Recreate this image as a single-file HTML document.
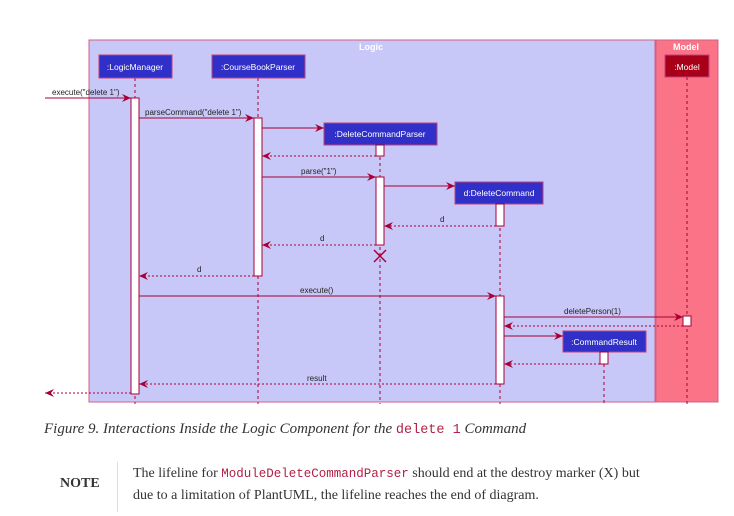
<!DOCTYPE html>
<html><head><meta charset="utf-8"><style>
body{margin:0;width:734px;height:516px;background:#fff;overflow:hidden;position:relative;font-family:"Liberation Serif",serif}
svg{position:absolute;left:0;top:0}
.cap{position:absolute;left:44px;top:421px;font-style:italic;font-size:15px;color:#333;white-space:nowrap}
.cap code{font-size:13.5px}
code{font-family:"Liberation Mono",monospace;color:#b12146;font-style:normal;font-size:12.5px}
.note{position:absolute;left:60px;top:476px;font-weight:bold;font-size:14px;color:#333}
.vl{position:absolute;left:117px;top:462px;width:1px;height:50px;background:#ddd}
.nt{position:absolute;left:133px;top:463px;font-size:14px;line-height:22px;color:#333;width:600px}
</style></head><body>
<svg width="734" height="516" font-family="Liberation Sans, sans-serif" font-size="8">
<defs>
<marker id="a" markerWidth="10" markerHeight="8" refX="9" refY="4" orient="auto" markerUnits="userSpaceOnUse"><path d="M0,0 L9,4 L0,8 L3,4 z" fill="#a80036"/></marker>
</defs>
<rect x="89" y="40" width="566" height="362" fill="#c8c8f8" stroke="#d0608a" stroke-width="1"/>
<rect x="656" y="40" width="62" height="362" fill="#fa7386" stroke="#d0608a" stroke-width="1"/>
<text x="371" y="50" fill="#fff" font-weight="bold" font-size="9" text-anchor="middle">Logic</text>
<text x="686" y="50" fill="#fff" font-weight="bold" font-size="9" text-anchor="middle">Model</text>
<g stroke="#a80036" stroke-dasharray="3,3" stroke-width="1">
<line x1="135" y1="78" x2="135" y2="404"/><line x1="258" y1="78" x2="258" y2="404"/>
<line x1="380" y1="145" x2="380" y2="404"/><line x1="500" y1="204" x2="500" y2="404"/>
<line x1="604" y1="352" x2="604" y2="404"/><line x1="687" y1="77" x2="687" y2="404"/>
</g>
<g fill="#3030c8" stroke="#c0407a" stroke-width="1">
<rect x="99" y="55" width="73" height="23"/><rect x="212" y="55" width="93" height="23"/>
<rect x="324" y="123" width="113" height="22"/><rect x="455" y="182" width="88" height="22"/>
<rect x="563" y="331" width="83" height="21"/><rect x="665" y="55" width="44" height="22" fill="#a80018"/>
</g>
<g fill="#fff" text-anchor="middle" font-size="8.5">
<text x="135" y="70">:LogicManager</text><text x="258" y="70">:CourseBookParser</text>
<text x="380" y="137">:DeleteCommandParser</text><text x="499" y="196">d:DeleteCommand</text>
<text x="604" y="345">:CommandResult</text><text x="687" y="70">:Model</text>
</g>
<g fill="#fff" stroke="#a80036" stroke-width="1">
<rect x="131" y="98" width="8" height="296"/><rect x="254" y="118" width="8" height="158"/>
<rect x="376" y="145" width="8" height="11"/><rect x="376" y="177" width="8" height="68"/>
<rect x="496" y="204" width="8" height="22"/><rect x="496" y="296" width="8" height="88"/>
<rect x="683" y="316" width="8" height="10"/><rect x="600" y="352" width="8" height="12"/>
</g>
<path d="M374,250 L386,262 M386,250 L374,262" stroke="#a80036" stroke-width="1.5"/>
<g stroke="#a80036" stroke-width="1" marker-end="url(#a)">
<line x1="45" y1="98" x2="131" y2="98"/><line x1="139" y1="118" x2="254" y2="118"/>
<line x1="262" y1="128" x2="324" y2="128"/><line x1="262" y1="177" x2="376" y2="177"/>
<line x1="384" y1="186" x2="455" y2="186"/><line x1="139" y1="296" x2="496" y2="296"/>
<line x1="504" y1="317" x2="683" y2="317"/><line x1="504" y1="336" x2="563" y2="336"/>
</g>
<g stroke="#a80036" stroke-width="1" stroke-dasharray="2,2" marker-end="url(#a)">
<line x1="376" y1="156" x2="262" y2="156"/><line x1="496" y1="226" x2="384" y2="226"/>
<line x1="376" y1="245" x2="262" y2="245"/><line x1="254" y1="276" x2="139" y2="276"/>
<line x1="683" y1="326" x2="504" y2="326"/><line x1="600" y1="364" x2="504" y2="364"/>
<line x1="496" y1="384" x2="139" y2="384"/><line x1="131" y1="393" x2="45" y2="393"/>
</g>
<g fill="#222" font-size="8">
<text x="52" y="95">execute("delete 1")</text><text x="145" y="115">parseCommand("delete 1")</text>
<text x="301" y="174">parse("1")</text><text x="440" y="222">d</text><text x="320" y="241">d</text>
<text x="197" y="272">d</text><text x="300" y="293">execute()</text><text x="564" y="314">deletePerson(1)</text>
<text x="307" y="381">result</text>
</g>
</svg>
<div class="cap">Figure 9. Interactions Inside the Logic Component for the <code>delete 1</code> Command</div>
<div class="note">NOTE</div><div class="vl"></div>
<div class="nt">The lifeline for <code>ModuleDeleteCommandParser</code> should end at the destroy marker (X) but<br>due to a limitation of PlantUML, the lifeline reaches the end of diagram.</div>
</body></html>
